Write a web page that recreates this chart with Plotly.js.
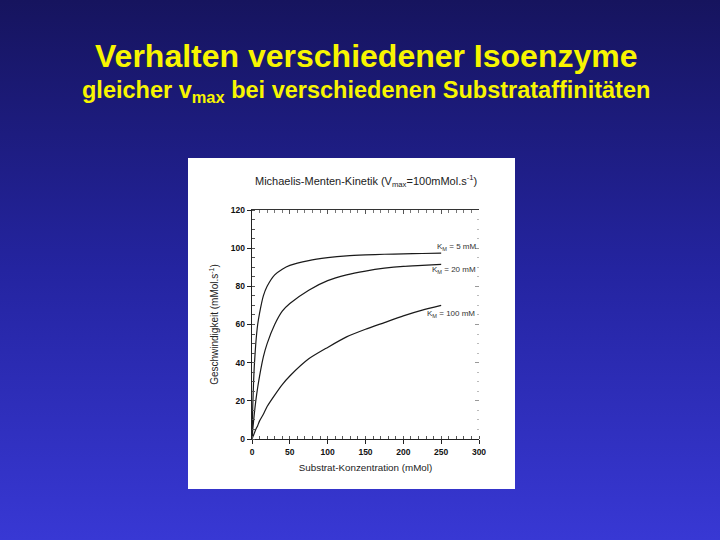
<!DOCTYPE html>
<html>
<head>
<meta charset="utf-8">
<script src="https://cdn.plot.ly/plotly-3.0.1.min.js"></script>
<style>
html,body{margin:0;padding:0;}
body{width:720px;height:540px;background:linear-gradient(to bottom,#16145e 0%,#2424a0 50%,#3838d4 100%);}
#chart{width:720px;height:540px;}
</style>
</head>
<body>
<div id="chart"></div>
<script>
// Substrate concentration (mMol)
const substrat = [0, 1, 2, 3, 5, 7.5, 10, 15, 20, 30, 40, 50, 75, 100, 125, 150, 175, 200, 225, 250];
// Velocity (mMol.s-1)
const vKm5   = [0, 17, 29, 38, 50, 60, 66, 75, 80, 86, 89, 91, 93.5, 95, 96, 96.5, 96.8, 97, 97.2, 97.4];
const vKm20  = [0, 5, 9, 13, 20, 27, 33, 43, 50, 60, 67, 71, 78, 83, 86, 88, 89.5, 90.5, 91, 91.5];
const vKm100 = [0, 1, 2, 3, 5, 7, 9.5, 13, 17, 23, 28.5, 33, 42, 48, 53.5, 57.5, 61, 64.5, 67.5, 70];
const curveLabels = ['K<sub>M</sub> = 5 mM', 'K<sub>M</sub> = 20 mM', 'K<sub>M</sub> = 100 mM'];
const labelX = [299, 299, 298];
const labelY = [100.5, 88.5, 65.5];
const xTicks = [0, 50, 100, 150, 200, 250, 300];
const yTicks = [0, 20, 40, 60, 80, 100, 120];

const slideTitle = 'Verhalten verschiedener Isoenzyme';
const slideSubtitle = 'gleicher v<sub>max</sub> bei verschiedenen Substrataffinitäten';
const chartTitle = 'Michaelis-Menten-Kinetik (V<sub>max</sub>=100mMol.s<sup>-1</sup>)';
const xTitle = 'Substrat-Konzentration (mMol)';
const yTitle = 'Geschwindigkeit (mMol.s<sup>-1</sup>)';

// plot area geometry (pixels)
const L = 252, R = 479, T = 210, B = 439;
const px = x => (x - L) / (R - L);
const py = y => (B - y) / (B - T);

const FONT = 'Arial, "Liberation Sans", sans-serif';
const lineStyle = {color: '#1a1a1a', width: 1.2, shape: 'spline', smoothing: 0.6};

const traces = [vKm5, vKm20, vKm100].map(v => ({
  x: substrat, y: v, type: 'scatter', mode: 'lines', line: lineStyle,
  showlegend: false, hoverinfo: 'skip'
}));
traces.push({x: [], y: [], xaxis: 'x2', yaxis: 'y2', type: 'scatter', mode: 'lines', showlegend: false});

const annotations = [
  {text: slideTitle, xref: 'paper', yref: 'paper', x: px(366), y: py(56), xanchor: 'center', yanchor: 'middle',
   showarrow: false, font: {family: FONT, size: 32, weight: 'bold', color: '#f8f500'}},
  {text: slideSubtitle, xref: 'paper', yref: 'paper', x: px(366), y: py(92), xanchor: 'center', yanchor: 'middle',
   showarrow: false, font: {family: FONT, size: 23.5, weight: 'bold', color: '#f8f500'}},
  {text: chartTitle, xref: 'paper', yref: 'paper', x: px(366), y: py(181), xanchor: 'center', yanchor: 'middle',
   showarrow: false, font: {family: FONT, size: 11, color: '#222'}}
];
curveLabels.forEach((t, i) => annotations.push({
  text: t, x: labelX[i], y: labelY[i], xref: 'x', yref: 'y', xanchor: 'right', yanchor: 'middle',
  showarrow: false, font: {family: FONT, size: 8, color: '#333'}
}));

const layout = {
  width: 720, height: 540,
  margin: {l: L, r: 720 - R, t: T, b: 540 - B, pad: 0},
  paper_bgcolor: 'rgba(0,0,0,0)',
  plot_bgcolor: 'rgba(0,0,0,0)',
  font: {family: FONT, color: '#222'},
  shapes: [{type: 'rect', xref: 'paper', yref: 'paper', x0: px(188), x1: px(515), y0: py(489), y1: py(158),
    fillcolor: '#ffffff', line: {width: 0}, layer: 'below'}],
  annotations: annotations,
  xaxis: {
    range: [0, 300], tickvals: xTicks, ticktext: xTicks.map(String),
    showline: true, linecolor: '#222', linewidth: 1.3, mirror: false,
    ticks: 'outside', ticklen: 4, tickcolor: '#222', showgrid: false, zeroline: false,
    tickfont: {family: FONT, size: 8.5, weight: 'bold', color: '#111'},
    minor: {dtick: 10, ticks: 'inside', ticklen: 3, tickcolor: '#555'},
    title: {text: xTitle, font: {family: FONT, size: 9.8, color: '#222'}, standoff: 8}
  },
  yaxis: {
    range: [0, 120], tickvals: yTicks, ticktext: yTicks.map(String),
    showline: true, linecolor: '#222', linewidth: 1.3, mirror: false,
    ticks: 'outside', ticklen: 4, tickcolor: '#222', showgrid: false, zeroline: false,
    tickfont: {family: FONT, size: 8.5, weight: 'bold', color: '#111'},
    minor: {dtick: 5, ticks: 'inside', ticklen: 3, tickcolor: '#555'},
    title: {text: yTitle, font: {family: FONT, size: 10, color: '#222'}, standoff: 10}
  },
  xaxis2: {
    range: [0, 300], overlaying: 'x', side: 'top', anchor: 'y2',
    showline: true, linecolor: '#333', linewidth: 1.5, ticks: 'inside', ticklen: 4, tickcolor: '#555',
    tickvals: xTicks, showticklabels: false, showgrid: false, zeroline: false,
    minor: {dtick: 10, ticks: 'inside', ticklen: 3, tickcolor: '#777'}
  },
  yaxis2: {
    range: [0, 120], overlaying: 'y', side: 'right', anchor: 'x2',
    showline: false, ticks: 'inside', ticklen: 4, tickcolor: '#999',
    tickvals: yTicks, showticklabels: false, showgrid: false, zeroline: false,
    minor: {dtick: 5, ticks: 'inside', ticklen: 2, tickcolor: '#bbb'}
  }
};

Plotly.newPlot('chart', traces, layout, {staticPlot: true, displayModeBar: false});
</script>
</body>
</html>
